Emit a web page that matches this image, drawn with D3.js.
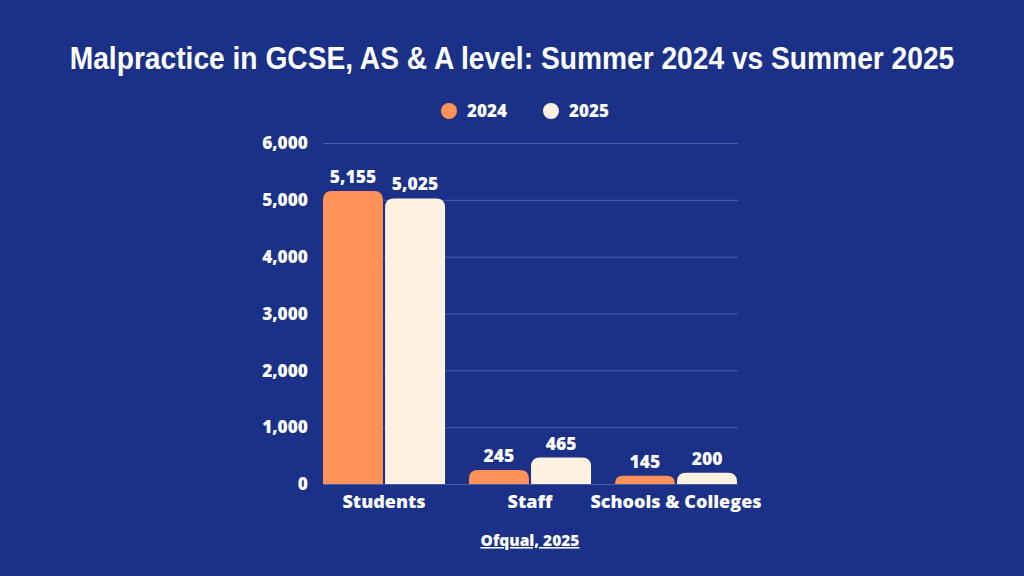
<!DOCTYPE html>
<html>
<head>
<meta charset="utf-8">
<script src="https://cdn.jsdelivr.net/npm/d3@7"></script>
<style>
  body { margin: 0; background: #1b3188; }
  text { font-family: "Open Sans", sans-serif; font-weight: 800; fill: #fff; }
  .title { font-family: "Liberation Sans", sans-serif; font-weight: 700; font-size: 31px; }
</style>
</head>
<body>
<div id="viz"></div>
<script>
//Width and height
var w = 1024;
var h = 576;

var categories = ["Students", "Staff", "Schools & Colleges"];
var years = ["2024", "2025"];
var values2024 = [5155, 245, 145];
var values2025 = [5025, 465, 200];
var yTicks = [0, 1000, 2000, 3000, 4000, 5000, 6000];

var color = d3.scaleOrdinal()
            .domain(years)
            .range(['#ff9159', '#fff2e2']);

var svg = d3.select("#viz")
            .append("svg")
            .attr("width", w)
            .attr("height", h);

svg.append("rect").attr("width", w).attr("height", h).attr("fill", "#1b3188");

// title squeezed horizontally to the reference width
var titleG = svg.append("g");
var title = titleG.append("text")
    .attr("class", "title")
    .attr("text-anchor", "middle")
    .text("Malpractice in GCSE, AS & A level: Summer 2024 vs Summer 2025");
var tw = title.node().getComputedTextLength();
titleG.attr("transform", "translate(" + (w / 2) + ",69) scale(" + (885 / tw) + ",1)");

//Legend
var legendX = [449, 551];
var legend = svg.selectAll("g.legend")
    .data(years)
    .enter()
    .append("g")
    .attr("class", "legend")
    .attr("transform", function(d, i) { return "translate(" + legendX[i] + ",111)"; });
legend.append("circle").attr("r", 8).attr("fill", function(d) { return color(d); });
legend.append("text")
    .attr("x", 18)
    .attr("dy", "0.36em")
    .style("font-size", "17px")
    .text(function(d) { return d; });

//Scales
var x0 = d3.scaleBand()
           .domain(categories)
           .range([323, 737])
           .paddingInner(0.164)
           .paddingOuter(0);

var x1 = d3.scaleBand()
           .domain(years)
           .range([0, x0.bandwidth()])
           .paddingInner(0.034);

var y = d3.scaleLinear()
          .domain([0, 6000])
          .range([484, 143]);

//Gridlines
svg.selectAll("line.grid")
    .data(yTicks)
    .enter()
    .append("line")
    .attr("class", "grid")
    .attr("x1", 323)
    .attr("x2", 738)
    .attr("y1", function(d) { return y(d) + 0.5; })
    .attr("y2", function(d) { return y(d) + 0.5; })
    .attr("stroke", "rgba(255,255,255,0.22)")
    .attr("stroke-width", 1);

//Y axis labels
svg.selectAll("text.ytick")
    .data(yTicks)
    .enter()
    .append("text")
    .attr("class", "ytick")
    .attr("x", 308)
    .attr("y", function(d) { return y(d); })
    .attr("dy", "0.36em")
    .attr("text-anchor", "end")
    .style("font-size", "17.3px")
    .text(function(d) { return d3.format(",")(d); });

var rows = categories.map(function(c, i) {
    return { cat: c, vals: [ { year: "2024", v: values2024[i] }, { year: "2025", v: values2025[i] } ] };
});

function topRounded(x, y0, wd, ht, r) {
    r = Math.min(r, ht, wd / 2);
    return "M" + x + "," + (y0 + ht) +
           "V" + (y0 + r) +
           "Q" + x + "," + y0 + " " + (x + r) + "," + y0 +
           "H" + (x + wd - r) +
           "Q" + (x + wd) + "," + y0 + " " + (x + wd) + "," + (y0 + r) +
           "V" + (y0 + ht) + "Z";
}

var groups = svg.selectAll("g.cat")
    .data(rows)
    .enter()
    .append("g")
    .attr("class", "cat")
    .attr("transform", function(d) { return "translate(" + x0(d.cat) + ",0)"; });

var bars = groups.selectAll("g.bar")
    .data(function(d) { return d.vals; })
    .enter()
    .append("g")
    .attr("class", "bar");

bars.append("path")
    .attr("fill", function(d) { return color(d.year); })
    .attr("d", function(d) {
        return topRounded(x1(d.year), y(d.v), x1.bandwidth(), y(0) - y(d.v), 9);
    });

bars.append("text")
    .attr("x", function(d) { return x1(d.year) + x1.bandwidth() / 2; })
    .attr("y", function(d) { return y(d.v) - 8; })
    .attr("text-anchor", "middle")
    .style("font-size", "17.5px")
    .text(function(d) { return d3.format(",")(d.v); });

//Category labels
svg.selectAll("text.cat")
    .data(categories)
    .enter()
    .append("text")
    .attr("class", "cat")
    .attr("x", function(d) { return x0(d) + x0.bandwidth() / 2; })
    .attr("y", 508)
    .attr("text-anchor", "middle")
    .style("font-size", "18px")
    .text(function(d) { return d; });

svg.append("text")
    .attr("x", 530)
    .attr("y", 546)
    .attr("text-anchor", "middle")
    .style("font-size", "15.5px")
    .style("text-decoration", "underline")
    .text("Ofqual, 2025");
</script>
</body>
</html>
